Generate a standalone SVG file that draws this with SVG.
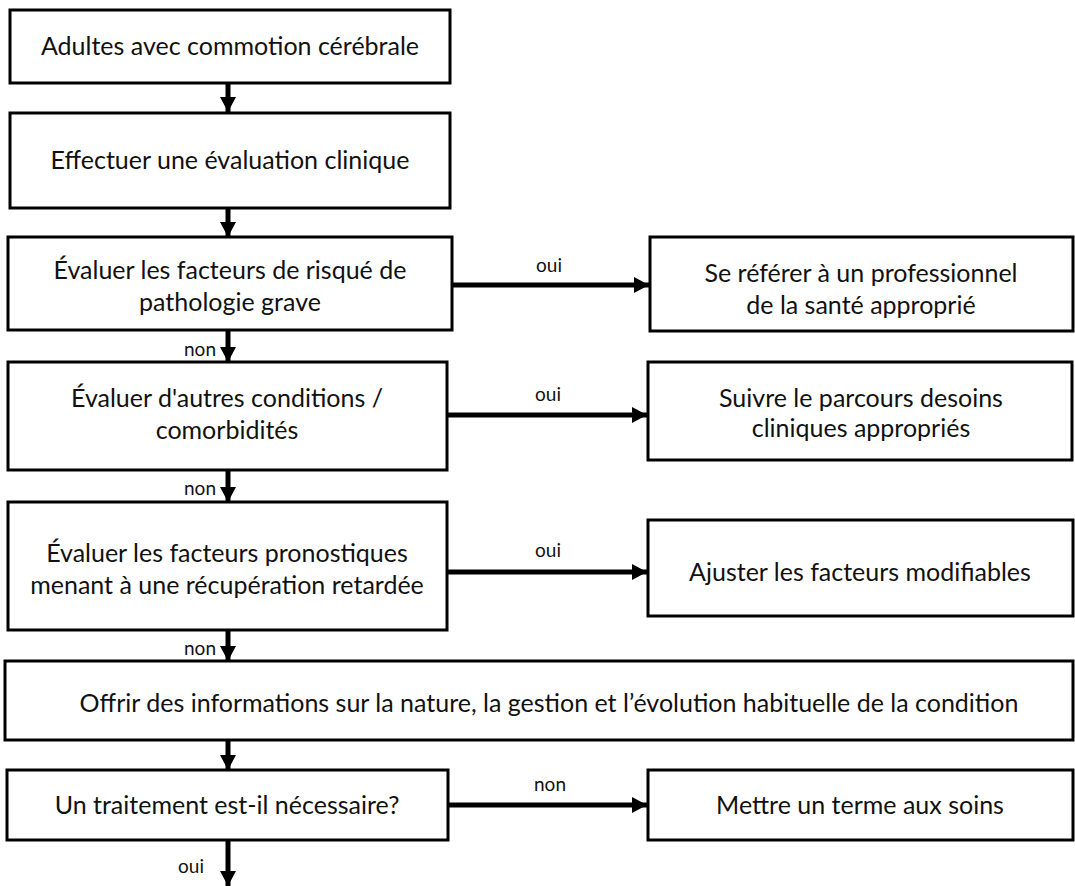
<svg xmlns="http://www.w3.org/2000/svg" width="1075" height="886" viewBox="0 0 1075 886">
<style>
.box{fill:#fff;stroke:#000;stroke-width:3}
.t{font-family:Lato,"Liberation Sans",sans-serif;font-size:25px;fill:#111;text-anchor:middle}
.l{font-family:Lato,"Liberation Sans",sans-serif;font-size:19px;fill:#111;text-anchor:middle}
.r{text-anchor:end}
.c{stroke:#000;stroke-width:5;fill:none}
</style>
<defs>
<marker id="ah" markerUnits="userSpaceOnUse" markerWidth="15" markerHeight="16" refX="15" refY="8" orient="auto">
<path d="M0,0 L15,8 L0,16 Z" fill="#000"/>
</marker>
</defs>
<rect width="1075" height="886" fill="#fff"/>
<g id="connectors">
<line class="c" x1="228" y1="83" x2="228" y2="112" marker-end="url(#ah)"/>
<line class="c" x1="228" y1="208" x2="228" y2="237" marker-end="url(#ah)"/>
<line class="c" x1="452" y1="285" x2="649" y2="285" marker-end="url(#ah)"/>
<line class="c" x1="228" y1="330" x2="228" y2="362" marker-end="url(#ah)"/>
<line class="c" x1="447" y1="415" x2="647" y2="415" marker-end="url(#ah)"/>
<line class="c" x1="228" y1="470" x2="228" y2="502" marker-end="url(#ah)"/>
<line class="c" x1="447" y1="572" x2="647" y2="572" marker-end="url(#ah)"/>
<line class="c" x1="228" y1="630" x2="228" y2="661" marker-end="url(#ah)"/>
<line class="c" x1="228" y1="740" x2="228" y2="770" marker-end="url(#ah)"/>
<line class="c" x1="448" y1="805" x2="647" y2="805" marker-end="url(#ah)"/>
<line class="c" x1="228" y1="840" x2="228" y2="886" marker-end="url(#ah)"/>
<text class="l" x="549" y="272">oui</text>
<text class="l" x="548" y="401">oui</text>
<text class="l" x="548" y="557">oui</text>
<text class="l" x="550" y="791">non</text>
<text class="l r" x="216" y="356">non</text>
<text class="l r" x="216" y="495">non</text>
<text class="l r" x="216" y="655">non</text>
<text class="l r" x="204" y="873">oui</text>
</g>
<g id="n1"><rect class="box" x="10" y="10" width="440" height="73"/><text class="t" x="230" y="55">Adultes avec commotion cérébrale</text></g>
<g id="n2"><rect class="box" x="10" y="113" width="440" height="95"/><text class="t" x="230" y="169">Effectuer une évaluation clinique</text></g>
<g id="n3"><rect class="box" x="8" y="237" width="444" height="93"/><text class="t" x="230" y="279">Évaluer les facteurs de risqué de</text><text class="t" x="230" y="311">pathologie grave</text></g>
<g id="n4"><rect class="box" x="650" y="237" width="423" height="94"/><text class="t" x="861" y="282">Se référer à un professionnel</text><text class="t" x="861" y="314">de la santé approprié</text></g>
<g id="n5"><rect class="box" x="8" y="362" width="439" height="108"/><text class="t" x="227" y="407">Évaluer d'autres conditions /</text><text class="t" x="227" y="439">comorbidités</text></g>
<g id="n6"><rect class="box" x="648" y="362" width="424" height="98"/><text class="t" x="861" y="407">Suivre le parcours desoins</text><text class="t" x="861" y="437">cliniques appropriés</text></g>
<g id="n7"><rect class="box" x="8" y="502" width="439" height="128"/><text class="t" x="227" y="562">Évaluer les facteurs pronostiques</text><text class="t" x="227" y="594">menant à une récupération retardée</text></g>
<g id="n8"><rect class="box" x="648" y="520" width="425" height="96"/><text class="t" x="860" y="581">Ajuster les facteurs modifiables</text></g>
<g id="n9"><rect class="box" x="5" y="661" width="1068" height="79"/><text class="t" x="549" y="712">Offrir des informations sur la nature, la gestion et l’évolution habituelle de la condition</text></g>
<g id="n10"><rect class="box" x="7" y="770" width="441" height="70"/><text class="t" x="227" y="814">Un traitement est-il nécessaire?</text></g>
<g id="n11"><rect class="box" x="648" y="770" width="425" height="70"/><text class="t" x="860" y="814">Mettre un terme aux soins</text></g>
</svg>
